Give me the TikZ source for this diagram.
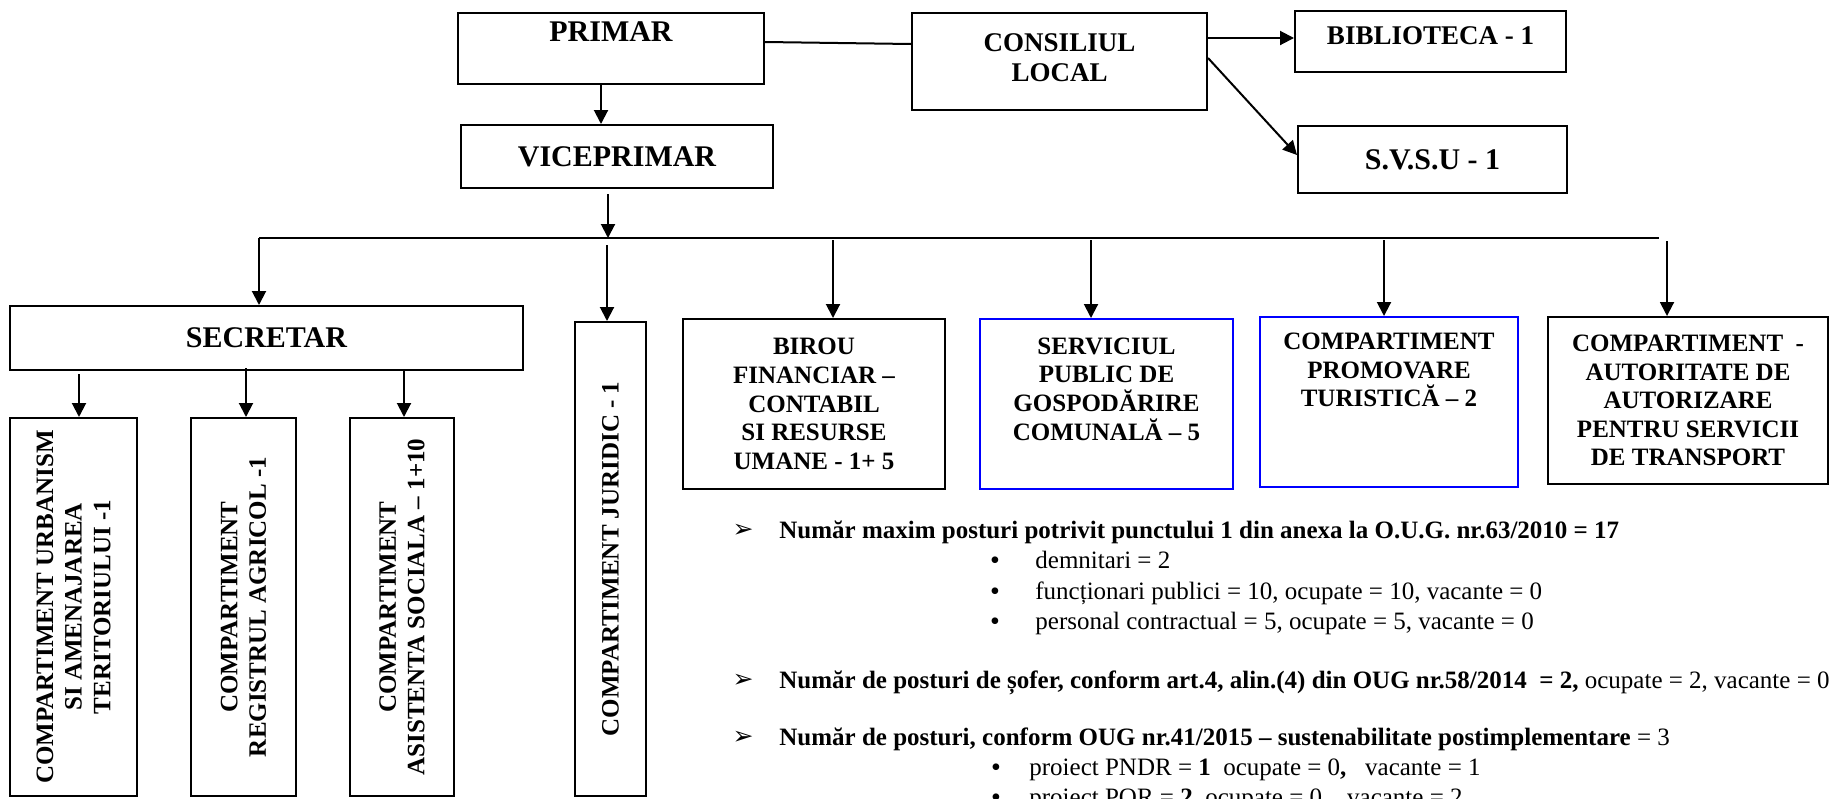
\documentclass[tikz,border=0pt]{standalone}
\usepackage{fontspec}
\setmainfont{Liberation Serif}
\newfontfamily\dejavu{DejaVu Sans}
\usetikzlibrary{arrows.meta,calc}
\begin{document}
\begin{tikzpicture}[x=0.5pt,y=-0.5pt,
  box/.style={draw, line width=1pt, inner sep=0pt},
  bluebox/.style={box, draw=blue},
  arr/.style={line width=1pt, -{Triangle[length=7pt,width=7pt]}},
  ln/.style={line width=1pt},
  bt/.style={font=\bfseries\fontsize{12.5}{14.3}\selectfont, align=center, inner sep=0pt},
  midt/.style={font=\bfseries\fontsize{13.5}{15}\selectfont, align=center, inner sep=0pt},
  bigt/.style={font=\bfseries\fontsize{15}{18}\selectfont, align=center, inner sep=0pt},
  lt/.style={anchor=base west, inner sep=0pt, font=\fontsize{12.5}{14}\selectfont},
  mk/.style={anchor=base, inner sep=0pt, font=\dejavu\fontsize{12.5}{12.5}\selectfont},
  dot/.style={anchor=base, inner sep=0pt, font=\fontsize{14}{14}\selectfont},
]
\useasboundingbox (0,0) rectangle (1829,798);

% top level
\node[box, minimum width=153pt, minimum height=35.5pt] (primar) at (611,48.5) {};
\node[bigt] (primart) at (611,32) {PRIMAR};
\node[box, bigt, minimum width=156pt, minimum height=31.5pt] (vice) at (617,156.5) {VICEPRIMAR};
\node[box, minimum width=147.5pt, minimum height=48.5pt] (cons) at (1059.5,61.5) {};
\node[midt] (const) at (1059.5,58) {CONSILIUL\\LOCAL};
\node[box, minimum width=135.5pt, minimum height=30.5pt] (biblio) at (1430.5,41.5) {};
\node[midt] (bibliot) at (1430.5,36) {BIBLIOTECA - 1};
\node[box, bigt, minimum width=134.5pt, minimum height=33.5pt] (svsu) at (1432.5,159.5) {S.V.S.U - 1};

% second level
\node[box, bigt, minimum width=256.5pt, minimum height=32pt] (secr) at (266.5,338) {SECRETAR};
\node[box, bt, rotate=90, minimum width=237pt, minimum height=35.5pt] (jur) at (610.5,559) {COMPARTIMENT JURIDIC - 1};
\node[box, minimum width=131pt, minimum height=85pt] (birou) at (814,404) {};
\node[bt] (birout) at (814,404) {BIROU\\FINANCIAR –\\CONTABIL\\SI RESURSE\\UMANE - 1+ 5};
\node[bluebox, minimum width=126.5pt, minimum height=85pt] (serv) at (1106.5,404) {};
\node[bt] (servt) at (1106.5,389) {SERVICIUL\\PUBLIC DE\\GOSPODĂRIRE\\COMUNALĂ – 5};
\node[bluebox, minimum width=129pt, minimum height=85pt] (promo) at (1389,402) {};
\node[bt] (promot) at (1389,370) {COMPARTIMENT\\PROMOVARE\\TURISTICĂ – 2};
\node[box, bt, minimum width=140pt, minimum height=83.5pt] (autor) at (1688,400.5) {COMPARTIMENT~ -\\AUTORITATE DE\\AUTORIZARE\\PENTRU SERVICII\\DE TRANSPORT};

% third level (under SECRETAR)
\node[box, bt, rotate=90, minimum width=189pt, minimum height=63.5pt] (urb) at (73.5,607) {COMPARTIMENT URBANISM\\SI AMENAJAREA\\TERITORIULUI -1};
\node[box, bt, rotate=90, minimum width=189pt, minimum height=52.5pt] (reg) at (243.5,607) {COMPARTIMENT\\REGISTRUL AGRICOL -1};
\node[box, bt, rotate=90, minimum width=189pt, minimum height=52pt] (asist) at (402,607) {COMPARTIMENT\\ASISTENTA SOCIALA – 1+10};

% connectors
\draw[arr] (primar.south -| 601,0) -- (vice.north -| 601,0);
\draw[ln] (primar.east |- 0,42) -- (cons.west |- 0,44);
\draw[arr] (cons.east |- 0,38) -- (biblio.west |- 0,38);
\draw[arr] (cons.east |- 0,58) -- (svsu.west |- 0,155);

\coordinate (busL) at (259,238);
\coordinate (busR) at (1659,238);
\coordinate (busV) at (608,238);
\draw[arr] ([yshift=-2.5pt]vice.south -| busV) -- (busV);
\draw[ln] (busL) -- (busR);
\draw[arr] (busL) -- (secr.north -| busL);
\draw[arr] ([yshift=-3.5pt]busV -| 607,0) -- (jur.east -| 607,0);
\draw[arr] ([yshift=-1pt]busL -| 833,0) -- (birou.north -| 833,0);
\draw[arr] ([yshift=-1pt]busL -| 1091,0) -- (serv.north -| 1091,0);
\draw[arr] ([yshift=-1pt]busL -| 1384,0) -- (promo.north -| 1384,0);
\draw[arr] ([yshift=-1.5pt]busR -| 1667,0) -- (autor.north -| 1667,0);

\draw[arr] ([yshift=-1.5pt]secr.south -| 79,0) -- (urb.east -| 79,0);
\draw[arr] ([yshift=1.5pt]secr.south -| 246,0) -- (reg.east -| 246,0);
\draw[arr] (secr.south -| 404,0) -- (asist.east -| 404,0);

% notes
\node[mk] (m1) at (743,537) {➢};
\node[lt] (l1) at (779,538) {\bfseries Număr maxim posturi potrivit punctului 1 din anexa la O.U.G. nr.63/2010 = 17};
\node[dot] (d1) at (995,569) {•};
\node[lt] (s1) at (1035,568) {demnitari = 2};
\node[dot] (d2) at (995,600) {•};
\node[lt] (s2) at (1035,599) {funcționari publici = 10, ocupate = 10, vacante = 0};
\node[dot] (d3) at (995,630) {•};
\node[lt] (s3) at (1035,629) {personal contractual = 5, ocupate = 5, vacante = 0};
\node[mk] (m2) at (743,687) {➢};
\node[lt] (l2) at (779,688) {\textbf{Număr de posturi de șofer, conform art.4, alin.(4) din OUG nr.58/2014~ = 2,} ocupate = 2, vacante = 0};
\node[mk] (m3) at (743,744) {➢};
\node[lt] (l3) at (779,745) {\textbf{Număr de posturi, conform OUG nr.41/2015 – sustenabilitate postimplementare} = 3};
\node[dot] (d4) at (996,776) {•};
\node[lt] (s4) at (1029,775) {proiect PNDR = \textbf{1}~ ocupate = 0\textbf{,}~~ vacante = 1};
\node[dot] (d5) at (996,806) {•};
\node[lt] (s5) at (1029,805) {proiect POR = \textbf{2}~ ocupate = 0,~~ vacante = 2};
\end{tikzpicture}
\end{document}
